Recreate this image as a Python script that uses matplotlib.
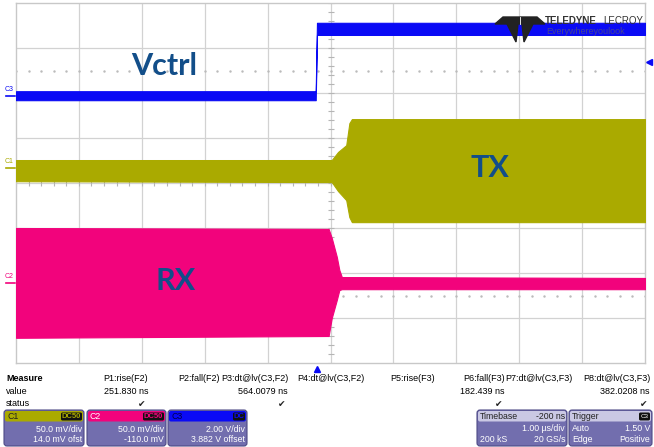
import numpy as np
import matplotlib.pyplot as plt
from matplotlib.patches import FancyBboxPatch, Polygon
import matplotlib.transforms as mtransforms

plt.rcParams['font.family'] = ['Liberation Sans', 'DejaVu Sans']

# trace envelopes: time in us (1 us/div), level in divisions
t_ctrl = [-5.0, -0.235, -0.215, 5.0]
ctrl_top = [2.04, 2.04, 3.56, 3.56]
ctrl_bot = [1.84, 1.84, 3.29, 3.29]

t_tx = [-5.0, 0.02, 0.12, 0.25, 0.30, 0.34, 5.0]
tx_top = [0.51, 0.51, 0.69, 0.84, 1.33, 1.42, 1.42]
tx_bot = [0.04, 0.02, -0.18, -0.38, -0.76, -0.87, -0.87]

t_rx = [-5.0, -0.03, 0.02, 0.10, 0.14, 0.18, 5.0]
rx_top = [-1.00, -1.02, -1.22, -1.64, -1.93, -2.09, -2.11]
rx_bot = [-3.44, -3.40, -3.00, -2.60, -2.38, -2.36, -2.36]

# channel offset markers (divisions) and trigger position (us)
ch_markers = {'C3': 1.94, 'C1': 0.33, 'C2': -2.22}
trig_level = 2.69
trig_time = -0.21

# measurement table
meas_names = ['P1:rise(F2)', 'P2:fall(F2)', 'P3:dt@lv(C3,F2)', 'P4:dt@lv(C3,F2)',
              'P5:rise(F3)', 'P6:fall(F3)', 'P7:dt@lv(C3,F3)', 'P8:dt@lv(C3,F3)']
meas_values = ['251.830 ns', '', '564.0079 ns', '', '', '182.439 ns', '', '382.0208 ns']
meas_right = [148, 220, 288, 365, 435, 505, 573, 650]

# channel descriptor boxes
ch_names = ['C1', 'C2', 'C3']
ch_coupling = ['DC50', 'DC50', 'DC']
ch_scale = ['50.0 mV/div', '50.0 mV/div', '2.00 V/div']
ch_offset = ['14.0 mV ofst', '-110.0 mV', '3.882 V offset']

c_blue = '#0a0af5'
c_olive = '#aaaa00'
c_pink = '#f2037c'
c_label = '#124e89'
ch_colors = {'C1': c_olive, 'C2': c_pink, 'C3': c_blue}

W, H = 654, 447
fig = plt.figure(figsize=(W / 100, H / 100), dpi=100)
fig.patch.set_facecolor('white')

# scope screen
ax = fig.add_axes([16 / W, (H - 363) / H, 629 / W, 360 / H])
ax.set_xlim(-5, 5)
ax.set_ylim(-4, 4)
ax.set_xticks([])
ax.set_yticks([])
for s in ax.spines.values():
    s.set_color('#c8c8c8')
    s.set_linewidth(1.0)

grid_kw = dict(color='#d2d2d2', lw=0.9, zorder=0)
for x in range(-4, 5):
    ax.axvline(x, **grid_kw)
for y in range(-3, 4):
    ax.axhline(y, **grid_kw)

# dotted rows and center axis ticks
minor = np.arange(-5, 5.01, 0.2)
for y in (2.5, -2.5):
    ax.plot(minor, np.full_like(minor, y), ls='none', marker='s', ms=0.7,
            color='#bbbbbb', zorder=0)
ticks_y = np.arange(-4, 4.01, 0.2)
ax.plot(np.zeros_like(ticks_y), ticks_y, ls='none', marker='_', ms=4,
        mew=0.8, color='#b5b5b5', zorder=0)
ax.plot(minor, np.zeros_like(minor), ls='none', marker='|', ms=4,
        mew=0.8, color='#b5b5b5', zorder=0)

ax.fill_between(t_ctrl, ctrl_bot, ctrl_top, color=c_blue, lw=0.8,
                edgecolor=c_blue, zorder=3)
ax.fill_between(t_tx, tx_bot, tx_top, color=c_olive, lw=0.8,
                edgecolor=c_olive, zorder=3)
ax.fill_between(t_rx, rx_bot, rx_top, color=c_pink, lw=0.8,
                edgecolor=c_pink, zorder=3)

lab_kw = dict(color=c_label, fontsize=22, fontweight='bold', family='Lato',
              ha='center', va='center', zorder=6)
ax.text(-2.64, 2.6, 'Vctrl', **lab_kw)
ax.text(2.53, 0.33, 'TX', **lab_kw)
ax.text(-2.46, -2.18, 'RX', **lab_kw)

# channel markers on the left edge
blend = mtransforms.blended_transform_factory(ax.transAxes, ax.transData)
for name, lvl in ch_markers.items():
    ax.text(-0.004, lvl + 0.06, name, transform=blend, ha='right', va='bottom',
            fontsize=5, color=ch_colors[name], clip_on=False)
    ax.plot([-0.016, -0.001], [lvl, lvl], transform=blend, color=ch_colors[name],
            lw=1.2, clip_on=False)
ax.plot([1.006], [trig_level], transform=blend, marker='<', ms=4,
        color=c_blue, clip_on=False)
ax.plot([trig_time], [-4.14], marker='^', ms=5, color=c_blue, clip_on=False)

# overlay in pixel coordinates for logo and readouts
ov = fig.add_axes([0, 0, 1, 1], zorder=5)
ov.set_xlim(0, W)
ov.set_ylim(H, 0)
ov.axis('off')
ov.patch.set_alpha(0)

ov.add_patch(Polygon([(495, 24), (503, 17), (537, 17), (545, 24)],
                     closed=True, color='#222222'))
ov.add_patch(Polygon([(507, 24), (518, 24), (516, 42)], closed=True, color='#222222'))
ov.add_patch(Polygon([(522, 24), (533, 24), (524, 42)], closed=True, color='#222222'))
ov.plot([520, 520], [17, 24], color='white', lw=0.6)
ov.text(545, 20.5, 'TELEDYNE', fontsize=7, fontweight='bold', color='#333333',
        va='center', ha='left')
ov.text(643, 20.5, 'LECROY', fontsize=7, color='#333333', va='center', ha='right')
ov.text(546, 31, 'Everywhereyoulook', fontsize=6.5, color='#555577', va='center',
        ha='left', alpha=0.8)

# measurement table
small = 6.5
ov.text(6, 378.5, 'Measure', fontsize=small, fontweight='bold', va='center')
ov.text(6, 392, 'value', fontsize=small, va='center')
ov.text(6, 404, 'status', fontsize=small, va='center')
for name, val, xr in zip(meas_names, meas_values, meas_right):
    ov.text(xr, 378.5, name, fontsize=small, ha='right', va='center')
    if val:
        ov.text(xr, 392, val, fontsize=small, ha='right', va='center')
        ov.text(xr - 3, 404, '\u2714', fontsize=small, ha='right', va='center',
                family='DejaVu Sans', color='#222222')

body = '#726eae'
edge = '#4e4a86'
boxfont = 6.3


def box(x0, x1, head_color):
    ov.add_patch(FancyBboxPatch((x0, 410), x1 - x0, 36,
                                boxstyle='round,pad=0,rounding_size=3',
                                fc=body, ec=edge, lw=0.8))
    ov.add_patch(FancyBboxPatch((x0 + 1, 411), x1 - x0 - 2, 10.5,
                                boxstyle='round,pad=0,rounding_size=2',
                                fc=head_color, ec='none'))


box_x = [(4, 84), (87, 166), (168, 247)]
head_text = {'C1': '#222222', 'C2': 'white', 'C3': '#00004a'}
for (x0, x1), name, cpl, sc, off in zip(box_x, ch_names, ch_coupling, ch_scale, ch_offset):
    col = ch_colors[name]
    box(x0, x1, col)
    ov.text(x0 + 3, 416.5, name, fontsize=boxfont, color=head_text[name], va='center')
    bw = 21 if cpl == 'DC50' else 12
    ov.add_patch(FancyBboxPatch((x1 - 2 - bw, 412.5), bw, 8,
                                boxstyle='round,pad=0,rounding_size=1.5',
                                fc='#111111', ec='none'))
    ov.text(x1 - 2 - bw / 2, 416.7, cpl, fontsize=5.5, color=col, ha='center',
            va='center', fontweight='bold')
    ov.text(x1 - 2, 429.5, sc, fontsize=boxfont, color='white', ha='right', va='center')
    ov.text(x1 - 2, 440, off, fontsize=boxfont, color='white', ha='right', va='center')

# timebase and trigger
box(477, 567, '#cac8e4')
ov.text(480, 416.5, 'Timebase', fontsize=boxfont, va='center', color='#222222')
ov.text(565, 416.5, '-200 ns', fontsize=boxfont, va='center', ha='right', color='#222222')
ov.text(565, 428.5, '1.00 \u00b5s/div', fontsize=boxfont, va='center', ha='right', color='white')
ov.text(480, 439.5, '200 kS', fontsize=boxfont, va='center', color='white')
ov.text(565, 439.5, '20 GS/s', fontsize=boxfont, va='center', ha='right', color='white')

box(569, 652, '#cac8e4')
ov.text(572, 416.5, 'Trigger', fontsize=boxfont, va='center', color='#222222')
ov.add_patch(FancyBboxPatch((639, 412.5), 11, 8,
                            boxstyle='round,pad=0,rounding_size=1.5',
                            fc='#111111', ec='none'))
ov.text(644.5, 416.7, 'C3', fontsize=4.5, color='white', ha='center', va='center')
ov.text(572, 428.5, 'Auto', fontsize=boxfont, va='center', color='white')
ov.text(650, 428.5, '1.50 V', fontsize=boxfont, va='center', ha='right', color='white')
ov.text(572, 439.5, 'Edge', fontsize=boxfont, va='center', color='white')
ov.text(650, 439.5, 'Positive', fontsize=boxfont, va='center', ha='right', color='white')

fig.savefig('out.png', dpi=100)
